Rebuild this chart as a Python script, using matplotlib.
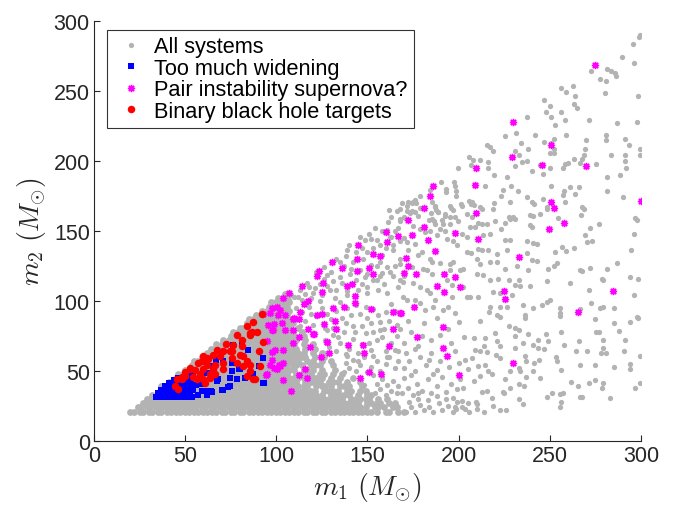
import matplotlib
matplotlib.use("Agg")
import matplotlib.pyplot as plt

plt.rcParams['font.family'] = ['Liberation Sans', 'DejaVu Sans']
plt.rcParams['mathtext.fontset'] = 'cm'

# ---- All systems: dense core, written as rows (m2 value, m1 values along the row)
core_m2 = [21, 24, 27, 30, 33, 36, 39, 42, 45, 48, 51, 54, 57, 60, 63, 66, 69, 72,
           75, 78, 81, 84, 87, 90, 93, 96, 99, 102, 105]
core_m1 = [
    [20, 22, 25, 27, 30, 32, 35, 37, 40, 42, 45, 47, 50, 52, 55, 57, 60, 62, 65, 67, 70, 72, 75, 77, 80, 82, 85, 87, 90, 92, 95, 97, 100, 102, 105, 107, 110, 112, 115, 117, 120, 122, 125, 127, 130, 132, 135, 137, 140, 142, 145, 147, 150, 152, 155, 160, 162, 167, 170],
    [24, 26, 29, 31, 34, 36, 39, 41, 44, 46, 49, 51, 54, 56, 59, 61, 64, 66, 69, 71, 74, 76, 79, 81, 84, 86, 89, 91, 94, 96, 99, 101, 104, 106, 109, 111, 114, 116, 119, 121, 124, 126, 129, 131, 134, 136, 139, 141, 144, 146, 149, 154, 156, 159, 164, 166],
    [27, 30, 32, 35, 37, 40, 42, 45, 47, 50, 52, 55, 57, 60, 62, 65, 67, 70, 72, 75, 77, 80, 82, 85, 87, 90, 92, 95, 97, 100, 102, 105, 107, 110, 112, 115, 117, 120, 122, 125, 127, 130, 132, 135, 137, 140, 142, 145, 150, 152, 155, 157, 162, 165],
    [29, 31, 34, 36, 39, 41, 44, 46, 49, 51, 54, 56, 59, 61, 64, 66, 69, 71, 74, 76, 79, 81, 84, 86, 89, 91, 94, 96, 99, 101, 104, 106, 109, 111, 114, 116, 119, 121, 124, 126, 129, 131, 134, 136, 141, 144, 146, 149, 151, 156, 161],
    [32, 35, 37, 40, 42, 45, 47, 50, 52, 55, 57, 60, 62, 65, 67, 70, 72, 75, 77, 80, 82, 85, 87, 90, 92, 95, 97, 100, 102, 105, 107, 110, 112, 115, 117, 120, 122, 125, 130, 132, 135, 137, 140, 145, 150, 152],
    [36, 39, 41, 44, 46, 49, 51, 54, 56, 59, 61, 64, 66, 69, 71, 74, 76, 79, 81, 84, 86, 89, 91, 94, 96, 99, 101, 104, 106, 109, 111, 114, 116, 119, 121, 126, 129, 131, 134, 139, 141, 146, 149],
    [37, 40, 42, 45, 47, 50, 52, 55, 57, 60, 62, 65, 67, 70, 72, 75, 77, 80, 82, 85, 87, 90, 92, 95, 97, 100, 102, 105, 107, 110, 112, 115, 117, 122, 125, 127, 130, 135, 137, 140, 147],
    [41, 44, 46, 49, 51, 54, 56, 59, 61, 64, 66, 69, 71, 74, 76, 79, 81, 84, 86, 89, 91, 94, 96, 99, 101, 104, 106, 109, 111, 116, 119, 121, 124, 129, 131, 134, 139, 146],
    [45, 47, 50, 52, 55, 57, 60, 62, 65, 67, 70, 72, 75, 77, 80, 82, 85, 87, 90, 92, 95, 97, 100, 102, 105, 107, 110, 112, 115, 120, 122, 125, 130, 135, 142],
    [46, 49, 51, 54, 56, 59, 61, 64, 66, 69, 71, 74, 76, 79, 81, 84, 86, 89, 91, 94, 96, 99, 101, 104, 106, 111, 114, 116, 119, 124, 126, 131, 136],
    [50, 52, 55, 57, 60, 62, 65, 67, 70, 72, 75, 77, 80, 82, 85, 87, 90, 92, 95, 97, 100, 102, 105, 107, 110, 115, 117, 120, 125, 132],
    [54, 56, 59, 61, 64, 66, 69, 71, 74, 76, 79, 81, 84, 86, 89, 91, 94, 96, 99, 101, 104, 106, 109, 111, 114, 119, 121, 124, 131],
    [55, 57, 60, 62, 65, 67, 70, 72, 75, 77, 80, 82, 85, 87, 90, 92, 95, 97, 100, 102, 105, 107, 110, 112, 117, 120, 125, 130],
    [59, 61, 64, 66, 69, 71, 74, 76, 79, 81, 84, 86, 89, 91, 94, 96, 99, 101, 104, 106, 109, 111, 114, 116, 121, 126],
    [62, 65, 67, 70, 72, 75, 77, 80, 82, 85, 87, 90, 92, 95, 97, 100, 102, 105, 107, 110, 112, 115, 120, 125],
    [64, 66, 69, 71, 74, 76, 79, 81, 84, 86, 89, 91, 94, 96, 99, 101, 104, 106, 109, 111, 116, 121],
    [67, 70, 72, 75, 77, 80, 82, 85, 87, 90, 92, 95, 97, 100, 102, 105, 107, 110, 115, 120],
    [71, 74, 76, 79, 81, 84, 86, 89, 91, 94, 96, 99, 101, 104, 106, 109, 111, 116],
    [75, 77, 80, 82, 85, 87, 90, 92, 95, 97, 100, 102, 105, 107, 110, 115],
    [76, 79, 81, 84, 86, 89, 91, 94, 96, 99, 101, 104, 106, 109, 114],
    [80, 82, 85, 87, 90, 92, 95, 97, 100, 102, 105, 107, 112],
    [84, 86, 89, 91, 94, 96, 99, 101, 104, 106, 109],
    [85, 87, 90, 92, 95, 97, 100, 102, 105, 107, 110],
    [89, 91, 94, 96, 99, 101, 104, 106],
    [92, 95, 97, 100, 102, 105, 107],
    [96, 99, 101, 104, 106],
    [97, 100, 102, 105, 107],
    [101, 104, 106],
    [105],
]

# ---- All systems: looser fringe around the core
gray_fringe = [
    (154, 34), (157, 37), (160, 33), (163, 36), (166, 34), (155, 41), (158, 44), (161, 40), (164, 43), (167, 39), (153, 47), (148, 40),
    (137, 49), (140, 52), (138, 56), (142, 58), (144, 50), (146, 54), (148, 60), (150, 49), (152, 53), (155, 57), (157, 50), (160, 55),
    (162, 60), (165, 52), (167, 57), (139, 61), (153, 61), (158, 46),
    (126, 63), (129, 67), (127, 72), (131, 76), (133, 64), (135, 70), (137, 78), (140, 66), (142, 73), (145, 63), (147, 69), (149, 77),
    (152, 65), (155, 72), (157, 79), (160, 64), (163, 70), (166, 75), (128, 79), (138, 62), (153, 78), (165, 65),
    (113, 82), (116, 86), (114, 92), (118, 96), (120, 83), (122, 89), (125, 95), (127, 81), (130, 87), (133, 93), (135, 99), (138, 84),
    (141, 90), (144, 97), (147, 82), (150, 88), (153, 94), (157, 85), (160, 92), (163, 98), (166, 83), (117, 99), (124, 100),
    (111, 95), (119, 91), (128, 91), (131, 81), (136, 88), (139, 95), (142, 82), (146, 91), (149, 96), (152, 84), (156, 90),
    (159, 80), (162, 86), (165, 93), (168, 80), (134, 74), (143, 78), (151, 70), (158, 74), (161, 60), (167, 64), (145, 57),
    (166, 164.6), (172.4, 170.5), (167.8, 157.5), (161.4, 156.3), (160.5, 150.4), (151, 148), (148.6, 143.3), (155, 143.3),
    (162.4, 145.6), (138.6, 136.2), (144, 135), (133, 130.3), (147.7, 130.3), (156.9, 127.9), (164.2, 136.2), (122, 120.8),
    (127.6, 118.5), (134.9, 117.3), (140.4, 119.6), (148.6, 117.3), (155, 114.9), (162.4, 120.8), (167.8, 114.9), (116.6, 112.6),
    (113, 107.8), (129.4, 107.8), (120.3, 105.5), (138.6, 104.3), (149.6, 105.5), (160.5, 105.5), (169.7, 103.1),
    (108, 104), (112, 103), (118, 110), (124, 112), (131, 114), (137, 125), (142, 128), (146, 122), (152, 126), (158, 120), (165, 125),
    (153, 138), (158, 133), (150, 110), (145, 108), (132, 102), (126, 124), (140, 140), (146, 146), (160, 138), (165, 150), (154, 152),
    (170, 160), (163, 160),
    (104, 100), (107, 101), (110, 103), (114, 101), (116, 105), (119, 102), (121, 109), (125, 104), (128, 111), (126, 116), (130, 121),
    (133, 108), (136, 113), (139, 107), (135, 128), (138, 132), (141, 123), (144, 115), (147, 112), (150, 119), (153, 115), (156, 108),
    (159, 112), (157, 118), (161, 124), (164, 118), (167, 110), (170, 118), (168, 130), (164, 140), (170, 145), (155, 125), (150, 135),
    (147, 138), (152, 144), (157, 140), (163, 146), (167, 152), (158, 150), (162, 165), (168, 166), (176, 172), (179, 175),
    (171, 21), (174, 24), (176, 21), (179, 26), (181, 22), (184, 24), (186, 21), (189, 27), (191, 22), (194, 25), (197, 21), (199, 28),
    (202, 24), (206, 21), (173, 28), (178, 30), (183, 29), (188, 32), (193, 30), (205, 27), (210, 23), (214, 21), (219, 25),
    (169, 34), (172, 38), (175, 33), (177, 41), (180, 36), (183, 44), (185, 34), (188, 39), (191, 46), (193, 35), (196, 41), (199, 37),
    (170, 45), (174, 47), (186, 48), (201, 44), (178, 34),
    (170, 52), (173, 57), (176, 50), (179, 60), (182, 54), (185, 63), (188, 51), (190, 57), (195, 53), (198, 64), (171, 63), (176, 66),
    (184, 58), (200, 56),
    (170, 70), (174, 78), (178, 68), (181, 84), (185, 72), (188, 88), (190, 76), (196, 70), (200, 85), (172, 86), (180, 75), (194, 80),
    (203, 74),
]

# ---- All systems: sparse outer region (m1 > ~165)
gray_outer = [
    (299.5, 290), (298.9, 288.5), (295.9, 283.7), (289.6, 274.2), (296.5, 269.9), (281.7, 265.8), (283.5, 264.6), (285.7, 262.9),
    (286.3, 261.0), (272.8, 264.6), (277.6, 258.6), (280.8, 257.4), (280.2, 248.5), (298.7, 246.2), (256.3, 252.1), (259.1, 249.5),
    (262.6, 253.3), (263.7, 246.2), (246.9, 243.8), (250.2, 239.0), (263.2, 240.6), (265.0, 237.8), (248.0, 235.1), (250.8, 231.5),
    (256.3, 235.1), (258.5, 229.2), (271.5, 229.2), (286.9, 227.5), (298.0, 228.2), (253.0, 225.8), (237.3, 231.1), (225.6, 217.9),
    (231.7, 219.8), (241.9, 218.6), (259.1, 218.6), (252.1, 216.0), (246.9, 213.6), (250.8, 213.1), (234.0, 212.6), (238.2, 208.8),
    (269.7, 215.0), (280.8, 218.4), (280.8, 215.0), (291.3, 216.0), (293.7, 211.4), (299.6, 208.8), (299.4, 204.3), (215.6, 211.4),
    (217.5, 210.2), (218.8, 207.1), (205.8, 202.8), (207.7, 200.7), (211.9, 200.7), (216.4, 199.2), (231.2, 207.1), (233.0, 204.3),
    (252.1, 208.8), (250.0, 205.5), (252.6, 205.9), (269.3, 208.8), (268.7, 204.0), (267.8, 201.6), (283.5, 204.3), (291.5, 204.3),
    (291.5, 199.9), (291.9, 194.7), (199.7, 194.7), (206.6, 196.8), (216.4, 194.7), (234.9, 199.2), (237.8, 199.9), (231.2, 196.4),
    (240.1, 193.2), (244.5, 196.8), (246.3, 190.9), (250.4, 194.7), (257.3, 194.7), (258.5, 197.6), (259.8, 198.8), (263.2, 201.6),
    (266.5, 198.3), (275.2, 197.6), (281.7, 188.5), (288.5, 189.7), (219.7, 189.7), (226.4, 188.7), (214.7, 182.5), (228.6, 182.5),
    (223.4, 175.3), (224.3, 179.1), (232.5, 178.9), (237.3, 174.3), (241.3, 169.3), (246.3, 173.1), (248.7, 165.9), (250.6, 182.5),
    (257.4, 176.0), (258.0, 178.9), (261.3, 181.5), (263.7, 176.7), (265.9, 181.5), (258.4, 170.5), (268.7, 165.7), (266.9, 161.2),
    (281.7, 178.9), (290.4, 174.3), (298.0, 157.6), (190.1, 184.9), (192.9, 180.3), (197.5, 185.1), (198.1, 182.0), (198.4, 178.4),
    (193.2, 178.2), (198.8, 174.8), (201.8, 167.6), (205.5, 171.7), (207.1, 169.3), (208.6, 168.3), (212.7, 165.7), (184.6, 179.1),
    (187.0, 167.6), (187.9, 165.2), (185.1, 162.8), (188.8, 163.3), (195.7, 166.4), (197.0, 164.8), (198.1, 159.7), (192.5, 160.9),
    (191.0, 158.1), (171.6, 167.6), (174.4, 170.0), (176.6, 169.8), (179.0, 166.4), (175.9, 163.3), (173.5, 162.8), (170.7, 159.3),
    (183.6, 158.1), (186.4, 156.9), (219.7, 170.0), (218.8, 165.7), (228.0, 158.5), (230.8, 158.5), (241.0, 160.4),
    (168.8, 169.7), (174.9, 170.4), (185.3, 170.4), (187.1, 167.3), (195.3, 168.1), (201.4, 169.2), (207.2, 170.4), (211.8, 167.3),
    (228.3, 170.4), (240.2, 170.4), (248.4, 167.3), (267.6, 167.3), (171.6, 164.5), (174.3, 164.5), (188.9, 163.3), (192.6, 162.1),
    (195.3, 159.8), (199.9, 157.4), (204.5, 162.1), (207.2, 159.8), (210.9, 155.5), (212.7, 155.1), (215.5, 155.1), (227.4, 160.3),
    (230.1, 160.3), (239.3, 161.7), (244.8, 162.1), (254.8, 159.3), (296.9, 159.3), (167.9, 158.6), (178.0, 161.0), (185.3, 158.6),
    (187.1, 155.1), (191.7, 155.1), (195.3, 155.1), (206.3, 152.7), (209.1, 153.2), (220.1, 157.4), (223.2, 151.5), (225.5, 155.5),
    (239.3, 154.6), (240.2, 152.7), (272.2, 152.2), (276.8, 155.1), (296.0, 148.0), (175.2, 153.9), (178.9, 151.5), (181.6, 149.1),
    (184.4, 149.9), (189.9, 151.5), (192.6, 150.3), (188.0, 146.8), (201.8, 148.0), (204.5, 145.6), (213.6, 146.8), (217.3, 148.0),
    (225.5, 143.7), (228.3, 143.7), (237.4, 143.2), (241.1, 141.3), (242.9, 140.9), (256.7, 138.5), (259.0, 135.7), (263.1, 138.0),
    (269.5, 147.5), (270.4, 142.0), (273.1, 143.2), (294.5, 136.6), (167.9, 143.2), (171.6, 142.0), (176.1, 140.9), (179.8, 135.0),
    (193.5, 144.4), (197.2, 142.8), (199.0, 139.7), (204.5, 135.0), (206.7, 134.2), (210.9, 137.3), (212.7, 136.1), (216.4, 136.1),
    (221.0, 133.3), (226.5, 136.6), (237.8, 134.2), (243.3, 128.3), (253.0, 135.0), (253.9, 127.2), (249.3, 123.1), (252.1, 124.8),
    (266.4, 122.0), (267.6, 121.5), (272.2, 123.8), (281.4, 123.1), (286.9, 127.2), (294.2, 116.8), (298.2, 115.8), (172.5, 136.1),
    (178.0, 132.6), (184.4, 130.2), (185.3, 127.9), (189.9, 127.2), (195.3, 126.7), (197.2, 127.9), (210.0, 130.2), (211.8, 126.7),
    (217.3, 127.9), (221.0, 127.9), (225.5, 123.1), (231.9, 124.8), (238.3, 122.0), (240.2, 129.0), (167.9, 126.7), (174.3, 124.3),
    (180.7, 123.1), (182.5, 122.0), (185.3, 119.6), (195.3, 122.0), (200.8, 122.0), (202.7, 123.1), (210.0, 119.1), (213.6, 118.4),
    (217.3, 114.9), (221.9, 116.0), (227.4, 114.9), (232.9, 114.9), (239.3, 110.6), (233.8, 110.6), (248.4, 114.2), (261.2, 113.0),
    (278.6, 116.0), (279.5, 114.9), (271.8, 107.8), (169.7, 113.7), (175.2, 112.5), (178.9, 110.1), (182.5, 107.8), (184.4, 105.4),
    (187.1, 100.7), (193.5, 114.9), (196.3, 111.3), (196.3, 103.0), (202.7, 110.1), (204.5, 103.0), (206.3, 103.0), (210.9, 103.0),
    (219.1, 106.6), (222.8, 105.4), (229.2, 104.2), (231.0, 111.3), (235.6, 97.1), (240.7, 95.2), (245.7, 97.1), (248.4, 99.5),
    (250.3, 100.7), (255.4, 91.7), (266.7, 94.1), (272.6, 98.8), (279.5, 96.0), (277.7, 94.8), (285.0, 94.8), (296.0, 104.2),
    (171.6, 100.7), (176.1, 100.7), (178.9, 98.3), (181.6, 93.6), (186.2, 96.0), (191.7, 93.6), (194.4, 96.0), (198.1, 91.2),
    (217.3, 96.0), (222.8, 96.0), (216.9, 92.4), (221.0, 90.0), (226.5, 96.0), (236.5, 90.0), (255.7, 94.8), (297.8, 88.9),
    (211.8, 85.4), (222.8, 88.9), (236.5, 87.7), (255.4, 89.6), (275.0, 87.3), (285.0, 84.2), (294.2, 84.9), (298.7, 87.7),
    (227.4, 81.8), (231.0, 80.6), (232.9, 79.5), (220.1, 77.1), (208.2, 73.6), (214.6, 73.6), (221.0, 71.2), (222.8, 67.6),
    (231.0, 74.7), (231.0, 66.5), (235.6, 70.0), (238.0, 76.6), (240.7, 68.8), (243.8, 72.4), (243.8, 66.5), (246.6, 65.7),
    (248.1, 76.6), (248.8, 71.7), (256.3, 77.8), (258.1, 68.8), (265.8, 71.7), (264.3, 64.6), (270.4, 64.6), (275.5, 77.6),
    (276.8, 77.6), (279.2, 72.4), (279.0, 66.5), (278.3, 62.9), (280.8, 62.9), (287.8, 78.3), (290.5, 64.6), (291.1, 72.4),
    (299.5, 61.0), (203.6, 58.2), (207.2, 59.4), (209.1, 65.3), (211.8, 64.1), (213.7, 67.6), (215.8, 63.4), (220.4, 61.7),
    (222.8, 59.4), (236.5, 60.6), (237.1, 57.0), (241.5, 55.8), (244.4, 58.2), (253.5, 60.1), (253.9, 57.0), (256.1, 50.6),
    (266.7, 54.6), (274.6, 54.6), (285.0, 53.0), (294.2, 55.1), (293.8, 51.1), (205.4, 51.1), (210.9, 53.5), (214.6, 54.6),
    (216.4, 49.9), (218.2, 47.5), (225.5, 44.0), (228.3, 49.9), (232.9, 52.3), (233.8, 49.9), (237.1, 45.9), (240.7, 49.9),
    (244.8, 45.2), (261.6, 42.3), (265.4, 39.0), (271.7, 41.6), (274.6, 43.5), (279.0, 41.6), (278.6, 37.6), (283.2, 30.5),
    (296.9, 38.1), (299.3, 41.6), (202.7, 38.1), (208.2, 42.8), (211.8, 46.4), (212.7, 35.3), (215.5, 35.7), (224.6, 35.3),
    (225.2, 34.1), (228.3, 38.1), (233.2, 40.5), (236.0, 39.3), (232.9, 29.8), (235.2, 26.7), (248.4, 31.5), (251.2, 34.5),
    (255.7, 33.4), (257.2, 34.5), (256.1, 27.5), (255.7, 24.4), (266.7, 31.5), (267.6, 31.5), (197.2, 31.0), (201.8, 28.6),
    (203.6, 22.7), (209.6, 28.2), (210.0, 26.7), (218.2, 30.5), (222.8, 22.3), (226.1, 22.3), (198.6, 22.7), (198.1, 24.4),
]

# ---- Too much widening
widening = [
    (76.4, 68.8), (84.6, 65.2), (92.9, 59.4), (79.7, 51.6), (75.5, 49.9), (68.2, 44.5), (78.3, 44.0), (82.8, 45.2), (74.6, 39.2),
    (70.9, 36.4), (64.6, 35.0), (60.9, 35.7), (93.3, 41.1), (70.9, 57.0), (66.9, 57.7), (52.3, 32.6), (58.1, 41.6), (54.5, 46.3),
    (81.0, 68.8), (75.5, 55.8), (80.1, 51.1), (90.7, 53.4), (87.4, 47.5), (74.6, 45.2), (67.3, 42.8), (73.7, 38.8), (70.0, 36.4),
    (64.2, 35.7), (92.9, 41.6), (59.1, 40.4), (52.7, 33.3), (47.2, 36.9), (41.7, 33.3), (65.5, 53.4), (61.8, 48.7),
    (34, 31.5), (36.5, 31.5), (39, 31.5), (41.5, 31.5), (44, 31.5), (46.5, 31.5), (49, 31.5), (51.5, 31.5), (54, 31.5),
    (35, 34), (37.5, 34), (40, 34), (42.5, 34), (45, 34), (47.5, 34), (50, 34), (52.5, 34),
    (37, 36.5), (39.5, 36.5), (42, 36.5), (44.5, 36.5), (47, 36.5), (49.5, 36.5), (52, 36.5), (54.5, 36.5),
    (39, 39), (41.5, 39), (44, 39), (46.5, 39), (49, 39), (51.5, 39), (54, 39),
    (41, 41.5), (43.5, 41.5), (46, 41.5), (48.5, 41.5), (51, 41.5), (53.5, 41.5),
    (44, 43.5), (46, 45), (50, 44), (52, 46), (56, 40), (50, 48), (53, 50), (57, 33), (59, 36), (62, 33),
]

# ---- Pair instability supernova?
pair_inst = [
    (274.9, 268.6), (229.7, 227.7), (250.5, 211.1), (229.1, 203.1), (245.9, 196.9), (269.7, 196.5), (209.5, 195.3), (185.8, 182.3),
    (208.8, 183.0), (184.3, 175.2), (299.9, 171.6), (250.7, 170.9), (252.5, 166.5), (181.2, 166.5), (209.5, 162.9), (172.4, 158.2),
    (181.0, 152.7), (198.0, 148.9), (258.0, 155.8), (249.8, 151.6), (174.3, 147.3), (183.4, 143.8), (210.8, 144.5), (187.1, 135.7),
    (171.0, 130.7), (233.1, 131.4), (172.4, 125.0), (170.2, 120.1), (176.6, 119.6), (192.0, 119.1), (198.0, 117.2), (188.0, 110.6),
    (200.8, 109.7), (192.0, 106.2), (224.9, 107.3), (225.6, 101.2), (284.9, 107.1), (175.7, 96.0), (265.7, 92.4), (168.2, 91.3),
    (191.3, 81.1), (177.0, 74.0), (191.3, 66.5), (193.5, 61.0), (229.7, 55.8), (200.0, 47.0),
    (160.2, 149.1), (167.0, 146.3), (160.9, 142.1), (144.6, 140.2), (152.9, 133.3), (156.9, 132.1), (144.1, 129.8), (130.7, 128.2),
    (135.9, 123.9), (150.8, 123.6), (123.6, 121.3), (144.1, 121.3), (152.9, 119.1), (122.5, 117.7), (125.8, 113.0), (141.4, 111.8),
    (138.6, 110.6), (113.9, 110.6), (107.2, 105.5), (125.2, 106.2), (103.7, 101.9), (143.4, 103.5), (117.2, 100.2), (115.0, 97.9),
    (131.3, 95.0), (137.1, 96.0), (143.4, 98.3), (151.8, 94.1), (97.5, 94.8), (100.6, 95.5), (102.0, 93.6), (96.5, 91.7),
    (101.1, 90.1), (113.0, 92.0), (104.8, 90.1), (122.1, 90.3), (124.9, 90.5), (163.8, 92.2), (167.9, 91.3),
    (95.3, 83.0), (98.7, 83.7), (103.0, 84.2), (109.3, 87.0), (112.6, 87.0), (126.2, 83.7), (132.2, 86.0), (97.5, 79.4),
    (104.8, 79.4), (109.3, 79.4), (117.6, 79.9), (120.3, 76.6), (132.7, 80.1), (164.2, 79.9),
    (94.7, 71.1), (109.3, 70.0), (118.5, 67.2), (128.0, 70.4), (139.1, 68.8), (147.4, 68.8), (162.0, 68.1), (97.5, 63.3),
    (103.8, 65.2), (129.1, 62.6), (148.3, 62.6), (124.5, 60.1), (96.5, 54.6), (98.7, 52.3), (101.6, 54.6), (115.7, 51.6),
    (94.4, 46.8), (112.6, 46.8), (117.0, 45.2), (103.8, 43.5), (150.8, 49.1), (157.4, 48.0), (145.9, 45.2), (108.1, 35.7),
    (92.5, 90.8), (98.4, 79.4), (99.3, 65.2), (97.5, 58.2), (100.2, 51.1), (103.8, 55.8), (94.7, 47.5), (109.7, 87.7),
    (120.9, 76.4), (112.5, 74.0), (127.6, 70.7), (102.0, 53.4),
]

# ---- Binary black hole targets
bbh = [
    (87.4, 85.3), (83.7, 81.8), (89.6, 78.2), (86.5, 78.2), (85.6, 75.9), (72.4, 69.5), (76.4, 68.8), (81.0, 67.6), (67.3, 65.2),
    (71.0, 64.0), (75.5, 64.0), (80.1, 61.7), (90.7, 64.0), (65.5, 61.7), (69.1, 60.5), (81.6, 60.5), (75.5, 59.4), (60.0, 60.5),
    (62.7, 58.7), (83.7, 57.0), (85.6, 54.6), (70.9, 55.8), (57.2, 55.8), (61.8, 54.6), (66.4, 54.6), (52.7, 52.3), (55.4, 50.6),
    (60.0, 51.6), (65.4, 51.1), (70.9, 51.1), (49.9, 49.2), (58.1, 48.2), (63.6, 48.2), (48.1, 45.9), (54.5, 45.9), (60.0, 44.0),
    (45.4, 44.0), (85.6, 49.9), (87.4, 44.0), (46.3, 37.4), (92.0, 90.5), (92.9, 70.4), (91.1, 53.9),
    (78.3, 75.9), (81.0, 72.3), (85.6, 77.1), (61.8, 59.4), (59.1, 57.0), (52.7, 51.1), (49.9, 46.3), (56.3, 44.0), (60.9, 41.6),
    (63.6, 45.2), (66.4, 47.5), (74.6, 64.0), (78.3, 55.8), (81.9, 53.4), (83.7, 46.3), (88.3, 44.0), (48.1, 44.0), (44.4, 39.2),
]

core_x, core_y = [], []
for m2, row in zip(core_m2, core_m1):
    core_x += row
    core_y += [m2] * len(row)
gray_x = [p[0] for p in gray_fringe + gray_outer]
gray_y = [p[1] for p in gray_fringe + gray_outer]

fig = plt.figure(figsize=(6.76, 5.06), dpi=100)
ax = fig.add_axes([0.139, 0.1265, 0.809, 0.830])

gray = '#b3b3b3'
# the packed core is drawn with slightly larger dots so it reads as one solid cloud
ax.plot(core_x, core_y, ls='none', marker='o', ms=4.9, mew=0, color=gray, zorder=1)
ax.plot(gray_x, gray_y, ls='none', marker='o', ms=3.8, mew=0, color=gray,
        label='All systems', zorder=1)
ax.plot([p[0] for p in widening], [p[1] for p in widening], ls='none', marker='s',
        ms=3.8, mew=0, color='#0000ff', label='Too much widening', zorder=2)
ax.plot([p[0] for p in pair_inst], [p[1] for p in pair_inst], ls='none', marker=(8, 2, 0),
        ms=5.2, mew=1.0, color='#ff00ff', label='Pair instability supernova?', zorder=3)
ax.plot([p[0] for p in bbh], [p[1] for p in bbh], ls='none', marker='o', ms=5.4, mew=0,
        color='#ff0000', label='Binary black hole targets', zorder=4)

ax.set_xlim(0, 300)
ax.set_ylim(0, 300)
ax.set_xticks([0, 50, 100, 150, 200, 250, 300])
ax.set_yticks([0, 50, 100, 150, 200, 250, 300])
ax.spines['top'].set_visible(False)
ax.spines['right'].set_visible(False)
for s in ['left', 'bottom']:
    ax.spines[s].set_color('#262626')
    ax.spines[s].set_linewidth(0.8)
ax.tick_params(direction='in', length=4, width=0.8, color='#262626',
               labelsize=15.5, labelcolor='#262626', pad=3)

ax.set_xlabel(r'$m_1\ (M_{\odot})$', fontsize=20, color='#262626', labelpad=3)
ax.set_ylabel(r'$m_2\ (M_{\odot})$', fontsize=20, color='#262626', labelpad=4)

leg = ax.legend(loc='upper left', bbox_to_anchor=(0.024, 0.979), borderaxespad=0,
                fontsize=15.7, frameon=True, fancybox=False, edgecolor='black',
                handlelength=1.6, handletextpad=0.25, labelspacing=0.02,
                borderpad=0.3, markerscale=1.0)
leg.get_frame().set_linewidth(0.8)

fig.savefig('out.png', dpi=100)
